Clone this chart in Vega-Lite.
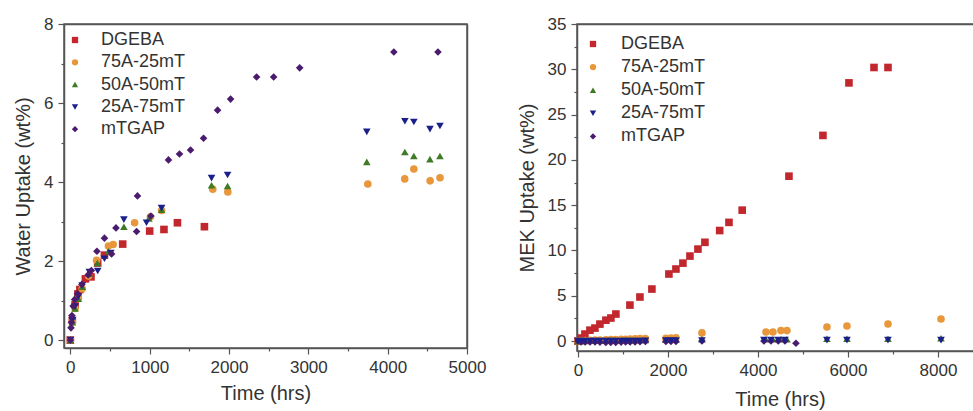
{
  "$schema": "https://vega.github.io/schema/vega-lite/v6.json",
  "background": "white",
  "padding": {"left": 12, "top": 14, "right": 0, "bottom": 0},
  "config": {
    "font": "Liberation Sans",
    "view": {"stroke": "#555555", "strokeWidth": 1.5},
    "axis": {"domainColor": "#555555", "domainWidth": 1.5, "tickColor": "#555555", "tickWidth": 1.2, "labelFontSize": 17, "labelColor": "#333333", "labelPadding": 5, "labelOverlap": false, "labelFlush": false, "titleFontSize": 20, "titleFontWeight": "normal", "titleColor": "#333333", "grid": false, "titlePadding": 10},
    "legend": {"labelFontSize": 18, "labelColor": "#333333", "symbolSize": 40, "symbolStrokeWidth": 0, "rowPadding": 4.3, "labelOffset": 17, "title": null}
  },
  "datasets": {
    "water": [
      {"s":"DGEBA","t":0,"v":0},{"s":"DGEBA","t":25,"v":0.5},{"s":"DGEBA","t":60,"v":0.9},{"s":"DGEBA","t":95,"v":1.17},{"s":"DGEBA","t":120,"v":1.28},{"s":"DGEBA","t":190,"v":1.55},{"s":"DGEBA","t":260,"v":1.6},{"s":"DGEBA","t":345,"v":1.95},{"s":"DGEBA","t":430,"v":2.15},{"s":"DGEBA","t":660,"v":2.43},{"s":"DGEBA","t":1000,"v":2.76},{"s":"DGEBA","t":1180,"v":2.8},{"s":"DGEBA","t":1350,"v":2.97},{"s":"DGEBA","t":1690,"v":2.87},
      {"s":"75A-25mT","t":0,"v":0},{"s":"75A-25mT","t":25,"v":0.45},{"s":"75A-25mT","t":60,"v":0.8},{"s":"75A-25mT","t":100,"v":1.05},{"s":"75A-25mT","t":150,"v":1.3},{"s":"75A-25mT","t":230,"v":1.62},{"s":"75A-25mT","t":330,"v":2.02},{"s":"75A-25mT","t":480,"v":2.38},{"s":"75A-25mT","t":540,"v":2.42},{"s":"75A-25mT","t":810,"v":2.97},{"s":"75A-25mT","t":1010,"v":3.12},{"s":"75A-25mT","t":1150,"v":3.28},{"s":"75A-25mT","t":1795,"v":3.82},{"s":"75A-25mT","t":1985,"v":3.75},{"s":"75A-25mT","t":3750,"v":3.95},{"s":"75A-25mT","t":4215,"v":4.08},{"s":"75A-25mT","t":4330,"v":4.33},{"s":"75A-25mT","t":4535,"v":4.03},{"s":"75A-25mT","t":4660,"v":4.11},
      {"s":"50A-50mT","t":0,"v":0},{"s":"50A-50mT","t":25,"v":0.45},{"s":"50A-50mT","t":60,"v":0.8},{"s":"50A-50mT","t":100,"v":1.05},{"s":"50A-50mT","t":150,"v":1.35},{"s":"50A-50mT","t":235,"v":1.68},{"s":"50A-50mT","t":340,"v":1.95},{"s":"50A-50mT","t":480,"v":2.25},{"s":"50A-50mT","t":675,"v":2.87},{"s":"50A-50mT","t":990,"v":3.08},{"s":"50A-50mT","t":1150,"v":3.3},{"s":"50A-50mT","t":1780,"v":3.92},{"s":"50A-50mT","t":1982,"v":3.9},{"s":"50A-50mT","t":3737,"v":4.51},{"s":"50A-50mT","t":4217,"v":4.76},{"s":"50A-50mT","t":4330,"v":4.66},{"s":"50A-50mT","t":4533,"v":4.58},{"s":"50A-50mT","t":4659,"v":4.66},
      {"s":"25A-75mT","t":0,"v":0},{"s":"25A-75mT","t":25,"v":0.5},{"s":"25A-75mT","t":60,"v":0.85},{"s":"25A-75mT","t":100,"v":1.1},{"s":"25A-75mT","t":150,"v":1.38},{"s":"25A-75mT","t":240,"v":1.72},{"s":"25A-75mT","t":345,"v":1.75},{"s":"25A-75mT","t":430,"v":2.06},{"s":"25A-75mT","t":510,"v":2.2},{"s":"25A-75mT","t":675,"v":3.05},{"s":"25A-75mT","t":960,"v":2.97},{"s":"25A-75mT","t":1150,"v":3.34},{"s":"25A-75mT","t":1780,"v":4.1},{"s":"25A-75mT","t":1982,"v":4.18},{"s":"25A-75mT","t":3737,"v":5.27},{"s":"25A-75mT","t":4217,"v":5.54},{"s":"25A-75mT","t":4330,"v":5.52},{"s":"25A-75mT","t":4533,"v":5.34},{"s":"25A-75mT","t":4659,"v":5.42},
      {"s":"mTGAP","t":0,"v":0},{"s":"mTGAP","t":8,"v":0.31},{"s":"mTGAP","t":14,"v":0.45},{"s":"mTGAP","t":20,"v":0.62},{"s":"mTGAP","t":35,"v":0.86},{"s":"mTGAP","t":55,"v":1.03},{"s":"mTGAP","t":90,"v":1.17},{"s":"mTGAP","t":145,"v":1.41},{"s":"mTGAP","t":225,"v":1.65},{"s":"mTGAP","t":265,"v":1.76},{"s":"mTGAP","t":335,"v":2.25},{"s":"mTGAP","t":430,"v":2.58},{"s":"mTGAP","t":520,"v":2.18},{"s":"mTGAP","t":575,"v":2.84},{"s":"mTGAP","t":835,"v":2.75},{"s":"mTGAP","t":846,"v":3.65},{"s":"mTGAP","t":1015,"v":3.14},{"s":"mTGAP","t":1237,"v":4.56},{"s":"mTGAP","t":1376,"v":4.71},{"s":"mTGAP","t":1515,"v":4.81},{"s":"mTGAP","t":1679,"v":5.11},{"s":"mTGAP","t":1856,"v":5.82},{"s":"mTGAP","t":2020,"v":6.1},{"s":"mTGAP","t":2348,"v":6.66},{"s":"mTGAP","t":2563,"v":6.66},{"s":"mTGAP","t":2891,"v":6.89},{"s":"mTGAP","t":4078,"v":7.29},{"s":"mTGAP","t":4634,"v":7.29}
    ],
    "mek": [
      {"s":"DGEBA","t":0,"v":0},{"s":"DGEBA","t":67,"v":0.33},{"s":"DGEBA","t":156,"v":0.77},{"s":"DGEBA","t":267,"v":1.2},{"s":"DGEBA","t":378,"v":1.43},{"s":"DGEBA","t":489,"v":1.87},{"s":"DGEBA","t":622,"v":2.3},{"s":"DGEBA","t":733,"v":2.54},{"s":"DGEBA","t":844,"v":2.98},{"s":"DGEBA","t":1156,"v":3.97},{"s":"DGEBA","t":1378,"v":4.86},{"s":"DGEBA","t":1644,"v":5.74},{"s":"DGEBA","t":2022,"v":7.4},{"s":"DGEBA","t":2178,"v":7.95},{"s":"DGEBA","t":2333,"v":8.6},{"s":"DGEBA","t":2489,"v":9.38},{"s":"DGEBA","t":2667,"v":10.15},{"s":"DGEBA","t":2822,"v":10.9},{"s":"DGEBA","t":3150,"v":12.2},{"s":"DGEBA","t":3356,"v":13.1},{"s":"DGEBA","t":3650,"v":14.45},{"s":"DGEBA","t":4689,"v":18.2},{"s":"DGEBA","t":5444,"v":22.7},{"s":"DGEBA","t":6022,"v":28.5},{"s":"DGEBA","t":6578,"v":30.2},{"s":"DGEBA","t":6889,"v":30.2},
      {"s":"75A-25mT","t":0,"v":0},{"s":"75A-25mT","t":70,"v":0.02},{"s":"75A-25mT","t":160,"v":0.05},{"s":"75A-25mT","t":270,"v":0.07},{"s":"75A-25mT","t":380,"v":0.1},{"s":"75A-25mT","t":490,"v":0.12},{"s":"75A-25mT","t":620,"v":0.14},{"s":"75A-25mT","t":730,"v":0.15},{"s":"75A-25mT","t":840,"v":0.17},{"s":"75A-25mT","t":960,"v":0.19},{"s":"75A-25mT","t":1060,"v":0.2},{"s":"75A-25mT","t":1160,"v":0.22},{"s":"75A-25mT","t":1270,"v":0.24},{"s":"75A-25mT","t":1380,"v":0.26},{"s":"75A-25mT","t":1500,"v":0.28},{"s":"75A-25mT","t":1955,"v":0.3},{"s":"75A-25mT","t":2067,"v":0.32},{"s":"75A-25mT","t":2178,"v":0.35},{"s":"75A-25mT","t":2756,"v":0.9},{"s":"75A-25mT","t":4178,"v":1.0},{"s":"75A-25mT","t":4333,"v":1.0},{"s":"75A-25mT","t":4511,"v":1.15},{"s":"75A-25mT","t":4644,"v":1.15},{"s":"75A-25mT","t":5533,"v":1.55},{"s":"75A-25mT","t":5978,"v":1.66},{"s":"75A-25mT","t":6889,"v":1.88},{"s":"75A-25mT","t":8067,"v":2.43},
      {"s":"50A-50mT","t":0,"v":0},{"s":"50A-50mT","t":70,"v":0.01},{"s":"50A-50mT","t":160,"v":0.02},{"s":"50A-50mT","t":270,"v":0.03},{"s":"50A-50mT","t":380,"v":0.04},{"s":"50A-50mT","t":490,"v":0.05},{"s":"50A-50mT","t":620,"v":0.06},{"s":"50A-50mT","t":730,"v":0.07},{"s":"50A-50mT","t":840,"v":0.08},{"s":"50A-50mT","t":960,"v":0.09},{"s":"50A-50mT","t":1060,"v":0.1},{"s":"50A-50mT","t":1160,"v":0.1},{"s":"50A-50mT","t":1270,"v":0.11},{"s":"50A-50mT","t":1380,"v":0.12},{"s":"50A-50mT","t":1500,"v":0.12},{"s":"50A-50mT","t":1955,"v":0.15},{"s":"50A-50mT","t":2067,"v":0.15},{"s":"50A-50mT","t":2178,"v":0.15},{"s":"50A-50mT","t":2756,"v":0.2},{"s":"50A-50mT","t":4178,"v":0.2},{"s":"50A-50mT","t":4333,"v":0.2},{"s":"50A-50mT","t":4511,"v":0.2},{"s":"50A-50mT","t":4644,"v":0.2},{"s":"50A-50mT","t":5533,"v":0.25},{"s":"50A-50mT","t":5978,"v":0.25},{"s":"50A-50mT","t":6889,"v":0.25},{"s":"50A-50mT","t":8067,"v":0.3},
      {"s":"mTGAP","t":0,"v":0},{"s":"mTGAP","t":70,"v":-0.1},{"s":"mTGAP","t":160,"v":-0.1},{"s":"mTGAP","t":270,"v":-0.1},{"s":"mTGAP","t":380,"v":-0.1},{"s":"mTGAP","t":490,"v":-0.12},{"s":"mTGAP","t":620,"v":-0.15},{"s":"mTGAP","t":730,"v":-0.15},{"s":"mTGAP","t":840,"v":-0.15},{"s":"mTGAP","t":960,"v":-0.12},{"s":"mTGAP","t":1060,"v":-0.1},{"s":"mTGAP","t":1160,"v":-0.1},{"s":"mTGAP","t":1270,"v":-0.1},{"s":"mTGAP","t":1380,"v":-0.08},{"s":"mTGAP","t":1500,"v":-0.05},{"s":"mTGAP","t":1955,"v":-0.05},{"s":"mTGAP","t":2067,"v":-0.05},{"s":"mTGAP","t":2178,"v":-0.05},{"s":"mTGAP","t":2756,"v":0},{"s":"mTGAP","t":4133,"v":0},{"s":"mTGAP","t":4290,"v":0},{"s":"mTGAP","t":4450,"v":0},{"s":"mTGAP","t":4600,"v":0},{"s":"mTGAP","t":4844,"v":-0.25},
      {"s":"25A-75mT","t":0,"v":0},{"s":"25A-75mT","t":70,"v":0},{"s":"25A-75mT","t":160,"v":0},{"s":"25A-75mT","t":270,"v":0},{"s":"25A-75mT","t":380,"v":0},{"s":"25A-75mT","t":490,"v":0},{"s":"25A-75mT","t":620,"v":0},{"s":"25A-75mT","t":730,"v":0},{"s":"25A-75mT","t":840,"v":0},{"s":"25A-75mT","t":960,"v":0},{"s":"25A-75mT","t":1060,"v":0},{"s":"25A-75mT","t":1160,"v":0},{"s":"25A-75mT","t":1270,"v":0},{"s":"25A-75mT","t":1380,"v":0},{"s":"25A-75mT","t":1500,"v":0.02},{"s":"25A-75mT","t":1955,"v":0.05},{"s":"25A-75mT","t":2067,"v":0.05},{"s":"25A-75mT","t":2178,"v":0.05},{"s":"25A-75mT","t":2756,"v":0.05},{"s":"25A-75mT","t":4133,"v":0.1},{"s":"25A-75mT","t":4290,"v":0.1},{"s":"25A-75mT","t":4450,"v":0.1},{"s":"25A-75mT","t":4600,"v":0.1},{"s":"25A-75mT","t":5533,"v":0.1},{"s":"25A-75mT","t":5978,"v":0.1},{"s":"25A-75mT","t":6889,"v":0.1},{"s":"25A-75mT","t":8067,"v":0.1}
    ]
  },
  "bounds": "flush",
  "spacing": 110,
  "resolve": {"scale": {"color": "independent", "shape": "independent"}},
  "hconcat": [
    {
      "width": 403,
      "height": 324,
      "data": {"name": "water"},
      "layer": [
        {
          "mark": {"type": "point", "filled": true, "size": 58, "opacity": 1},
          "encoding": {
            "x": {"field": "t", "type": "quantitative", "scale": {"domain": [-80, 5000], "nice": false, "zero": false},
              "axis": {"orient": "bottom", "title": "Time (hrs)", "values": [0,500,1000,1500,2000,2500,3000,3500,4000,4500,5000], "format": "d", "labelExpr": "datum.value % 1000 === 0 ? datum.label : ''", "tickSize": {"condition": {"test": "datum.value % 1000 !== 0", "value": 3}, "value": 6}, "titlePadding": 8}},
            "y": {"field": "v", "type": "quantitative", "scale": {"domain": [-0.2, 8], "nice": false, "zero": false},
              "axis": {"orient": "left", "title": "Water Uptake (wt%)", "values": [0,1,2,3,4,5,6,7,8], "labelExpr": "datum.value % 2 === 0 ? datum.label : ''", "tickSize": {"condition": {"test": "datum.value % 2 !== 0", "value": 3}, "value": 6}}},
            "color": {"field": "s", "type": "nominal", "scale": {"domain": ["DGEBA","75A-25mT","50A-50mT","25A-75mT","mTGAP"], "range": ["#c1272d","#e8973a","#3f7a27","#1b1f8a","#4b1c6e"]},
              "legend": {"orient": "none", "legendX": 2, "legendY": 7}},
            "shape": {"field": "s", "type": "nominal", "scale": {"domain": ["DGEBA","75A-25mT","50A-50mT","25A-75mT","mTGAP"], "range": ["square","circle","triangle-up","triangle-down","diamond"]},
              "legend": {"orient": "none", "legendX": 2, "legendY": 7}}
          }
        },
        {
          "mark": {"type": "point", "opacity": 0},
          "encoding": {
            "x": {"field": "t", "type": "quantitative", "axis": {"orient": "top", "labels": false, "ticks": false, "title": null, "domain": true, "zindex": 1}},
            "y": {"field": "v", "type": "quantitative", "axis": {"orient": "right", "labels": false, "ticks": false, "title": null, "domain": true, "zindex": 1}}
          }
        }
      ],
      "resolve": {"axis": {"x": "independent", "y": "independent"}}
    },
    {
      "width": 406,
      "height": 327,
      "data": {"name": "mek"},
      "layer": [
        {
          "mark": {"type": "point", "filled": true, "size": 58, "opacity": 1},
          "encoding": {
            "x": {"field": "t", "type": "quantitative", "scale": {"domain": [-20, 9000], "nice": false, "zero": false},
              "axis": {"orient": "bottom", "title": "Time (hrs)", "values": [0,1000,2000,3000,4000,5000,6000,7000,8000], "format": "d", "labelExpr": "datum.value % 2000 === 0 ? datum.label : ''", "tickSize": {"condition": {"test": "datum.value % 2000 !== 0", "value": 3}, "value": 6}, "titlePadding": 11}},
            "y": {"field": "v", "type": "quantitative", "scale": {"domain": [-1.1, 35], "nice": false, "zero": false},
              "axis": {"orient": "left", "title": "MEK Uptake (wt%)", "values": [0,2.5,5,7.5,10,12.5,15,17.5,20,22.5,25,27.5,30,32.5,35], "labelExpr": "datum.value % 5 === 0 ? datum.label : ''", "tickSize": {"condition": {"test": "datum.value % 5 !== 0", "value": 3}, "value": 6}}},
            "color": {"field": "s", "type": "nominal", "scale": {"domain": ["DGEBA","75A-25mT","50A-50mT","25A-75mT","mTGAP"], "range": ["#c1272d","#e8973a","#3f7a27","#1b1f8a","#4b1c6e"]},
              "legend": {"orient": "none", "legendX": 7, "legendY": 11, "rowPadding": 5.1, "labelOffset": 19}},
            "shape": {"field": "s", "type": "nominal", "scale": {"domain": ["DGEBA","75A-25mT","50A-50mT","25A-75mT","mTGAP"], "range": ["square","circle","triangle-up","triangle-down","diamond"]},
              "legend": {"orient": "none", "legendX": 7, "legendY": 11, "rowPadding": 5.1, "labelOffset": 19}}
          }
        },
        {
          "mark": {"type": "point", "opacity": 0},
          "encoding": {
            "x": {"field": "t", "type": "quantitative", "axis": {"orient": "top", "labels": false, "ticks": false, "title": null, "domain": true, "zindex": 1}},
            "y": {"field": "v", "type": "quantitative", "axis": {"orient": "right", "labels": false, "ticks": false, "title": null, "domain": false}}
          }
        }
      ],
      "resolve": {"axis": {"x": "independent", "y": "independent"}}
    }
  ]
}
